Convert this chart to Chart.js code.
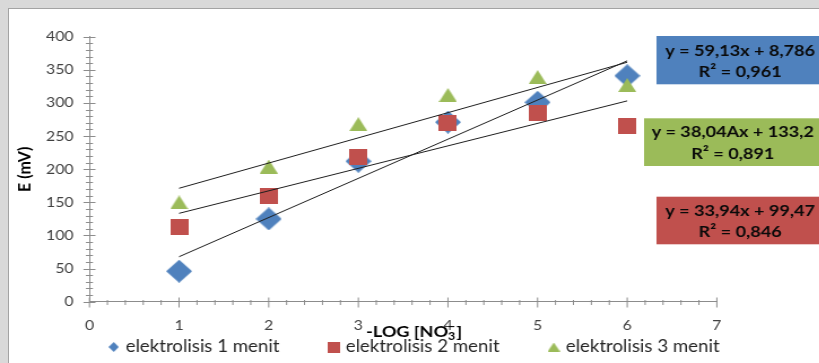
<!DOCTYPE html>
<html>
<head>
<meta charset="utf-8">
<script src="https://cdn.jsdelivr.net/npm/chart.js@4.4.1/dist/chart.umd.min.js"></script>
<style>
  html, body { margin: 0; padding: 0; width: 819px; height: 363px; overflow: hidden; background: #d9d9d9; }
  #frame {
    position: absolute; left: 8px; top: 8px; width: 811px; height: 355px;
    background: #ffffff; border-left: 1px solid #a3a3a3; border-top: 1px solid #a3a3a3; overflow: hidden;
  }
  /* the chart is drawn a little narrower and widened horizontally, like the embedded figure */
  #c { position: absolute; left: 0; top: 0; transform: scaleX(1.13); transform-origin: 0 0; }
</style>
</head>
<body>
<div id="frame"><canvas id="c" width="717" height="354"></canvas></div>
<script>
// ---- data ----
const xValues = [1, 2, 3, 4, 5, 6];
const seriesNames = ['elektrolisis 1 menit', 'elektrolisis 2 menit', 'elektrolisis 3 menit'];
const series1 = [46, 125, 212, 271, 301, 341];
const series2 = [112.5, 159, 218, 269, 285, 265];
const series3 = [150, 204, 268, 312, 339, 327];
const seriesColors = ['#4f81bd', '#c0504d', '#9bbb59'];

// linear trendlines (slope, intercept) and the equation labels shown beside the plot
const trendSlopes = [59.13, 33.94, 38.04];
const trendIntercepts = [8.786, 99.47, 133.2];
const equationLabels = [
  ['y = 59,13x + 8,786', 'R² = 0,961'],
  ['y = 33,94x + 99,47', 'R² = 0,846'],
  ['y = 38,04Ax + 133,2', 'R² = 0,891']
];

// axes
const yAxisTitle = 'E (mV)';
const xTitleMain = '-LOG [NO';
const xTitleSub = '3';
const xTitleSup = '\u2212';
const xTitleEnd = ']';
const yRange = [0, 400], yMajor = 50, yMinor = 10;
const xRange = [0, 7], xMajor = 1, xMinor = 0.2;

// ---- styling ----
const FONT = 'Lato';
const AXIS_COLOR = '#8c8c8c';
const TICK_TEXT = '#404040';
const TREND_COLOR = '#1e1e1e';

function makeMarker(shape, w, h, color) {
  const cv = document.createElement('canvas');
  cv.width = w; cv.height = h;
  const g = cv.getContext('2d');
  g.fillStyle = color;
  g.beginPath();
  if (shape === 'diamond') {
    g.moveTo(w / 2, 0); g.lineTo(w, h / 2); g.lineTo(w / 2, h); g.lineTo(0, h / 2);
  } else if (shape === 'square') {
    g.rect(0, 0, w, h);
  } else {
    g.moveTo(w / 2, 0); g.lineTo(w, h); g.lineTo(0, h);
  }
  g.closePath();
  g.fill();
  return cv;
}

const plotMarkers = [
  makeMarker('diamond', 23, 23, seriesColors[0]),
  makeMarker('square', 16, 16, seriesColors[1]),
  makeMarker('triangle', 16, 14, seriesColors[2])
];
const legendMarkers = [
  makeMarker('diamond', 9, 10, seriesColors[0]),
  makeMarker('square', 11, 11, seriesColors[1]),
  makeMarker('triangle', 11, 9, seriesColors[2])
];

const seriesValues = [series1, series2, series3];

// scatter datasets: later series sit on top, trendlines above all markers
const scatterSets = seriesValues.map((vals, i) => ({
  type: 'scatter',
  label: seriesNames[i],
  data: xValues.map((x, k) => ({ x, y: vals[k] })),
  pointStyle: plotMarkers[i],
  pointRadius: 6,
  pointHoverRadius: 6,
  backgroundColor: seriesColors[i],
  borderColor: seriesColors[i],
  order: 3 - i
}));

const xFirst = xValues[0], xLast = xValues[xValues.length - 1];
const trendSets = trendSlopes.map((m, i) => ({
  type: 'line',
  label: 'trend ' + seriesNames[i],
  data: [
    { x: xFirst, y: m * xFirst + trendIntercepts[i] },
    { x: xLast, y: m * xLast + trendIntercepts[i] }
  ],
  borderColor: TREND_COLOR,
  borderWidth: 1,
  pointRadius: 0,
  fill: false,
  tension: 0,
  order: 0
}));

// equation boxes: which series, box position and text placement
const equationBoxes = [
  { series: 0, left: 573, top: 27, height: 48.3, cx: 647, l1: 41.7, l2: 63.3 },
  { series: 2, left: 562, top: 109.3, height: 47.7, cx: 640.5, l1: 122.9, l2: 144.4 },
  { series: 1, left: 573, top: 187.7, height: 47.6, cx: 647, l1: 202, l2: 222.8 }
];

const decor = {
  id: 'decor',
  beforeDatasetsDraw(chart) {
    const { ctx, chartArea, scales } = chart;
    const ys = scales.y, xs = scales.x;
    ctx.save();
    ctx.strokeStyle = AXIS_COLOR;
    ctx.lineWidth = 1;
    ctx.beginPath();
    const nY = Math.round((yRange[1] - yRange[0]) / yMinor);
    for (let i = 0; i <= nY; i++) {
      const v = yRange[0] + i * yMinor;
      const py = Math.round(ys.getPixelForValue(v)) + 0.5;
      const len = (v % yMajor === 0) ? 5.3 : 3.1;
      ctx.moveTo(chartArea.left - len, py);
      ctx.lineTo(chartArea.left + len, py);
    }
    const nX = Math.round((xRange[1] - xRange[0]) / xMinor);
    const perMajor = Math.round(xMajor / xMinor);
    const by = Math.round(chartArea.bottom) + 0.5;
    for (let i = 0; i <= nX; i++) {
      const px = xs.getPixelForValue(xRange[0] + i * xMinor);
      const len = (i % perMajor === 0) ? 5 : 2.5;
      ctx.moveTo(px, by - len);
      ctx.lineTo(px, by + len);
    }
    ctx.stroke();
    ctx.restore();
  },
  afterDraw(chart) {
    const { ctx, width } = chart;
    ctx.save();

    // x-axis title with stacked subscript / superscript
    const mainFont = `bold 16px ${FONT}`;
    const smallFont = `bold 11px ${FONT}`;
    ctx.font = mainFont;
    const wMain = ctx.measureText(xTitleMain).width;
    const wEnd = ctx.measureText(xTitleEnd).width;
    ctx.font = smallFont;
    const wSmall = Math.max(ctx.measureText(xTitleSub).width, ctx.measureText(xTitleSup).width);
    const total = wMain + wSmall + 1 + wEnd;
    let tx = width / 2 - total / 2;
    const baseY = 327.7;
    ctx.fillStyle = '#000';
    ctx.textBaseline = 'alphabetic';
    ctx.textAlign = 'left';
    ctx.font = mainFont;
    ctx.fillText(xTitleMain, tx, baseY);
    tx += wMain;
    ctx.font = smallFont;
    ctx.fillText(xTitleSub, tx, baseY + 3.5);
    ctx.fillText(xTitleSup, tx, baseY - 6.5);
    tx += wSmall + 1;
    ctx.font = mainFont;
    ctx.fillText(xTitleEnd, tx, baseY);

    // legend
    const legFont = `16.5px ${FONT}`;
    ctx.font = legFont;
    const textW = seriesNames.map(s => ctx.measureText(s).width);
    const markGap = 10.6, itemGap = 48;
    const legTotal = legendMarkers[0].width / 2 + textW.reduce((a, b) => a + b + markGap, 0) + itemGap * (seriesNames.length - 1);
    let lx = (width - legTotal) / 2 + legendMarkers[0].width / 2;
    const ly = 338;
    ctx.textBaseline = 'middle';
    ctx.fillStyle = '#262626';
    seriesNames.forEach((name, i) => {
      const m = legendMarkers[i];
      ctx.drawImage(m, lx - m.width / 2, ly - m.height / 2);
      ctx.fillText(name, lx + markGap, ly);
      lx += markGap + textW[i] + itemGap;
    });

    // equation boxes
    ctx.textAlign = 'center';
    ctx.font = `bold 16px ${FONT}`;
    equationBoxes.forEach(b => {
      ctx.fillStyle = seriesColors[b.series];
      ctx.fillRect(b.left, b.top, width - b.left, b.height);
      ctx.fillStyle = '#0a0a0a';
      ctx.fillText(equationLabels[b.series][0], b.cx, b.l1);
      ctx.fillText(equationLabels[b.series][1], b.cx, b.l2);
    });
    ctx.restore();
  }
};

Chart.defaults.font.family = FONT;

new Chart(document.getElementById('c'), {
  data: { datasets: [...trendSets, ...scatterSets] },
  options: {
    responsive: false,
    animation: false,
    devicePixelRatio: 1,
    layout: { padding: { left: 0, top: 27.7, right: 90.6, bottom: 0 } },
    plugins: { legend: { display: false }, tooltip: { enabled: false } },
    scales: {
      x: {
        type: 'linear',
        min: xRange[0], max: xRange[1],
        grid: { display: false, drawTicks: false },
        border: { display: true, color: AXIS_COLOR, width: 1 },
        ticks: { stepSize: xMajor, padding: 15.5, color: TICK_TEXT, font: { size: 14 }, maxRotation: 0, autoSkip: false },
        afterFit(scale) { scale.height = 61.3; }
      },
      y: {
        type: 'linear',
        min: yRange[0], max: yRange[1],
        grid: { display: false, drawTicks: false },
        border: { display: true, color: AXIS_COLOR, width: 1 },
        ticks: { stepSize: yMajor, padding: 14, color: TICK_TEXT, font: { size: 14 }, autoSkip: false },
        title: { display: true, text: yAxisTitle, color: '#000', font: { size: 16, weight: 'bold' }, padding: { top: 4.1, bottom: 0 } },
        afterFit(scale) { scale.width = 71.2; }
      }
    }
  },
  plugins: [decor]
});
</script>
</body>
</html>
